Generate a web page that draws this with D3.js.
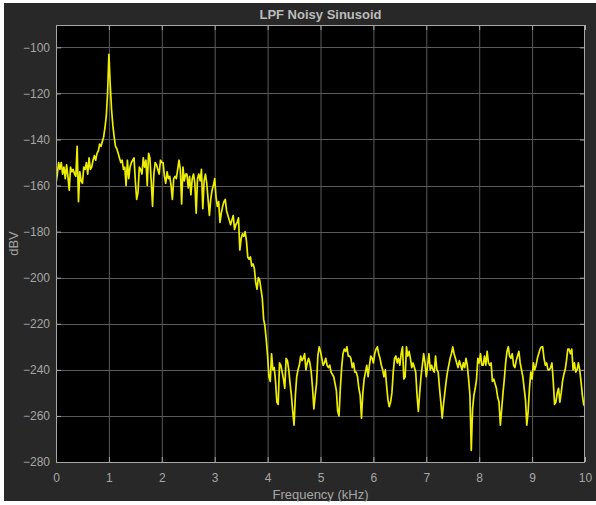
<!DOCTYPE html>
<meta charset="utf-8">
<script src="https://d3js.org/d3.v7.min.js"></script>
<style>
  body { margin: 0; background: #fff; }
  text { font-family: "Liberation Sans", Arial, sans-serif; }
</style>
<div id="chart"></div>
<script>
  // spectrum values, one per 0.025 kHz bin from 0 to 10 kHz (dBV)
  const fMin = 0, fMax = 10
  const dbv = [
    -159,-155,-150,-153,-150,-155,-152,-157,-151,-156,-162,-152,-154,-153,-155,-156,-143,-167,-154,-158,
    -159,-152,-153,-150,-155,-148,-153,-152,-149,-147,-149,-146,-145,-142,-143,-141,-139,-135,-130,-120,
    -103,-116,-127,-134,-139,-143,-144,-146,-148,-150,-149,-153,-152,-160,-149,-157,-152,-150,-149,-148,
    -158,-166,-163,-152,-153,-155,-148,-152,-149,-160,-146,-148,-158,-169,-155,-150,-151,-153,-155,-149,
    -150,-150,-156,-159,-154,-157,-156,-160,-166,-157,-156,-157,-153,-149,-153,-168,-152,-158,-155,-155,
    -161,-156,-164,-157,-155,-159,-172,-157,-155,-158,-153,-170,-158,-155,-159,-166,-173,-166,-162,-160,
    -157,-165,-169,-167,-176,-172,-169,-167,-166,-171,-173,-175,-177,-175,-173,-179,-177,-176,-174,-188,
    -183,-181,-182,-180,-184,-191,-192,-191,-195,-194,-196,-202,-205,-200,-201,-205,-209,-218,-221,-227,
    -234,-243,-245,-233,-240,-239,-245,-254,-255,-237,-238,-241,-244,-248,-235,-236,-240,-246,-251,-258,
    -264,-251,-243,-240,-238,-234,-236,-235,-233,-240,-237,-235,-237,-241,-248,-257,-251,-246,-234,-230,
    -232,-235,-238,-237,-235,-238,-239,-238,-241,-242,-243,-246,-249,-258,-260,-248,-239,-233,-231,-232,
    -230,-234,-234,-235,-239,-237,-241,-241,-243,-248,-251,-261,-250,-244,-241,-238,-243,-238,-234,-235,
    -237,-233,-231,-230,-233,-235,-238,-240,-243,-240,-247,-253,-256,-254,-250,-241,-235,-234,-237,-235,
    -238,-233,-230,-244,-243,-230,-234,-232,-235,-239,-237,-239,-241,-251,-258,-250,-243,-238,-233,-237,
    -243,-238,-233,-240,-238,-240,-241,-234,-240,-241,-248,-254,-261,-255,-250,-245,-241,-238,-235,-233,
    -230,-233,-235,-237,-239,-236,-238,-240,-237,-239,-235,-238,-244,-251,-275,-257,-251,-248,-244,-235,
    -237,-233,-238,-238,-234,-238,-232,-237,-238,-237,-245,-244,-246,-248,-252,-254,-264,-257,-250,-244,
    -237,-232,-230,-234,-235,-233,-238,-239,-236,-234,-232,-237,-240,-243,-248,-253,-264,-258,-248,-241,
    -244,-237,-240,-238,-235,-233,-231,-230,-230,-235,-238,-237,-240,-240,-239,-237,-245,-255,-254,-250,
    -248,-254,-250,-245,-242,-240,-236,-231,-231,-233,-231,-240,-237,-241,-240,-237,-240,-245,-251,-255,
    -256
  ]
  const xTicks = [0, 1, 2, 3, 4, 5, 6, 7, 8, 9, 10]
  const yTicks = [-280, -260, -240, -220, -200, -180, -160, -140, -120, -100]
  const yDomain = [-280, -90.3]

  const W = 596, H = 505
  const margin = { top: 25, right: 11, bottom: 43, left: 56 },
    width = W - margin.left - margin.right,
    height = H - margin.top - margin.bottom

  const svg = d3.select("#chart").append("svg")
    .attr("width", W).attr("height", H)

  // dark figure panel
  svg.append("rect").attr("x", 4).attr("y", 3).attr("width", W - 4).attr("height", 498)
    .attr("fill", "#282828")

  const g = svg.append("g").attr("transform", `translate(${margin.left},${margin.top})`)

  const x = d3.scaleLinear().domain([fMin, fMax]).range([0, width])
  const y = d3.scaleLinear().domain(yDomain).range([height, 0])

  g.append("rect").attr("width", width).attr("height", height).attr("fill", "#000")

  // grid
  g.append("g").selectAll("line").data(xTicks.slice(1, -1)).join("line")
    .attr("x1", d => x(d) + 0.5).attr("x2", d => x(d) + 0.5)
    .attr("y1", 0).attr("y2", height)
    .attr("stroke", "#5a5a5a").attr("stroke-width", 1)
  g.append("g").selectAll("line").data(yTicks.slice(1)).join("line")
    .attr("y1", d => Math.round(y(d)) + 0.5).attr("y2", d => Math.round(y(d)) + 0.5)
    .attr("x1", 0).attr("x2", width)
    .attr("stroke", "#5a5a5a").attr("stroke-width", 1)

  // trace
  g.append("clipPath").attr("id", "clip").append("rect").attr("width", width).attr("height", height)
  const line = d3.line()
    .x((d, i) => x(fMin + i * (fMax - fMin) / (dbv.length - 1)))
    .y(d => y(d))
  g.append("path").datum(dbv)
    .attr("clip-path", "url(#clip)")
    .attr("d", line)
    .attr("fill", "none")
    .attr("stroke", "#eeee00")
    .attr("stroke-width", 1.7)
    .attr("stroke-linejoin", "round")

  // axes (ticks pointing inward, labels outside)
  const axisColor = "#a6a6a6"
  g.append("g").attr("transform", `translate(0,${height})`)
    .call(d3.axisBottom(x).tickValues(xTicks).tickSizeInner(-5).tickSizeOuter(0).tickPadding(11).tickFormat(d3.format("d")))
  g.append("g")
    .call(d3.axisLeft(y).tickValues(yTicks).tickSizeInner(-5).tickSizeOuter(0).tickPadding(6))
  g.append("g").call(d3.axisTop(x).tickValues(xTicks).tickSizeInner(-5).tickSizeOuter(0).tickFormat(""))
  g.append("g").attr("transform", `translate(${width},0)`)
    .call(d3.axisRight(y).tickValues(yTicks).tickSizeInner(-5).tickSizeOuter(0).tickFormat(""))
  g.selectAll(".domain").remove()
  g.selectAll(".tick line").attr("stroke", axisColor)
  g.selectAll(".tick text").attr("fill", axisColor).style("font-size", "12px")
    .style("font-family", "'Liberation Sans', Arial, sans-serif")

  g.append("rect").attr("x", 0.5).attr("y", 0.5).attr("width", width - 1).attr("height", height)
    .attr("fill", "none").attr("stroke", axisColor).attr("stroke-width", 1)

  // labels
  svg.append("text").attr("x", margin.left + width / 2).attr("y", 18.5)
    .attr("text-anchor", "middle").attr("fill", "#bcbcbc")
    .style("font-size", "13px").style("font-weight", "bold")
    .text("LPF Noisy Sinusoid")
  svg.append("text").attr("x", margin.left + width / 2).attr("y", 498.5)
    .attr("text-anchor", "middle").attr("fill", axisColor)
    .style("font-size", "13px")
    .text("Frequency (kHz)")
  svg.append("text").attr("transform", `translate(18,${margin.top + height / 2}) rotate(-90)`)
    .attr("text-anchor", "middle").attr("fill", axisColor)
    .style("font-size", "13px")
    .text("dBV")
</script>
